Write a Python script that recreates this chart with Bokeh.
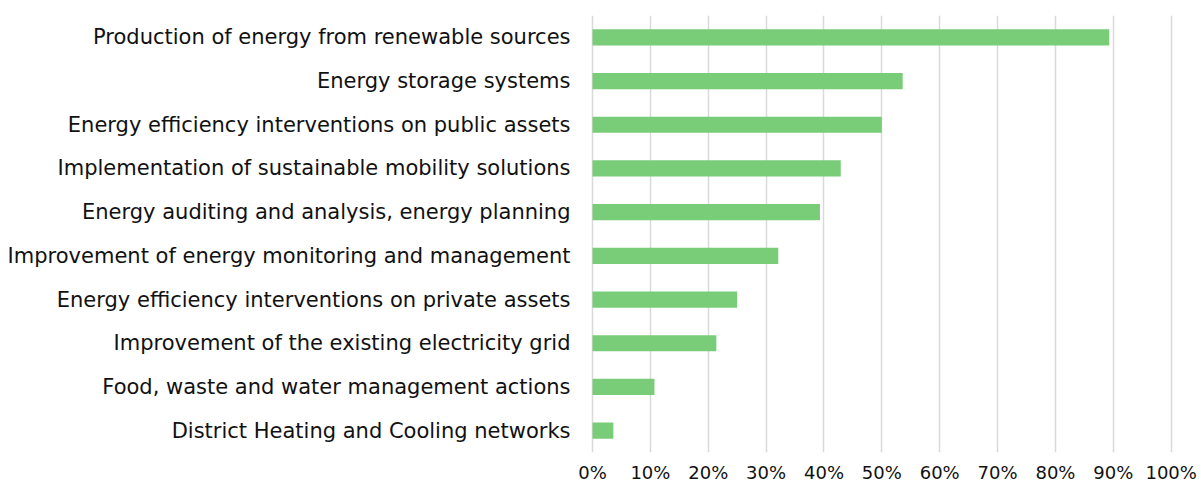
from bokeh.plotting import figure
from bokeh.models import FactorRange, Range1d, NumeralTickFormatter, FixedTicker
from bokeh.embed import file_html
from bokeh.resources import INLINE

categories = [
    "Production of energy from renewable sources",
    "Energy storage systems",
    "Energy efficiency interventions on public assets",
    "Implementation of sustainable mobility solutions",
    "Energy auditing and analysis, energy planning",
    "Improvement of energy monitoring and management",
    "Energy efficiency interventions on private assets",
    "Improvement of the existing electricity grid",
    "Food, waste and water management actions",
    "District Heating and Cooling networks",
]
values = [0.893, 0.536, 0.500, 0.429, 0.393, 0.321, 0.250, 0.214, 0.107, 0.036]
x_ticks = [0, 0.1, 0.2, 0.3, 0.4, 0.5, 0.6, 0.7, 0.8, 0.9, 1.0]

FONT = "DejaVu Sans"

p = figure(
    y_range=FactorRange(*reversed(categories), range_padding=0),
    x_range=Range1d(-0.0035, 1.004),
    width=1201, height=488,
    min_border_left=590, min_border_right=28, min_border_top=15, min_border_bottom=36,
    output_backend="svg", toolbar_location=None,
)
p.hbar(y=categories, right=values, height=0.37, color="#79CD79", line_color=None)

p.outline_line_color = None
p.background_fill_color = "white"
p.border_fill_color = "white"

p.ygrid.grid_line_color = None
p.xgrid.grid_line_color = "#d9d9d9"
p.xgrid.grid_line_width = 1.5
p.xaxis.ticker = FixedTicker(ticks=x_ticks)
p.xaxis.formatter = NumeralTickFormatter(format="0%")
p.xaxis.axis_line_color = None
p.xaxis.major_tick_line_color = None
p.xaxis.minor_tick_line_color = None
p.xaxis.major_label_standoff = 3
p.xaxis.major_label_text_font = FONT
p.xaxis.major_label_text_font_size = "18px"
p.xaxis.major_label_text_color = "#111111"

p.yaxis.axis_line_color = None
p.yaxis.major_tick_line_color = None
p.yaxis.minor_tick_line_color = None
p.yaxis.major_label_standoff = 14
p.yaxis.major_label_text_font = FONT
p.yaxis.major_label_text_font_size = "21px"
p.yaxis.major_label_text_color = "#111111"

open("out.html", "w").write(file_html(p, INLINE))
